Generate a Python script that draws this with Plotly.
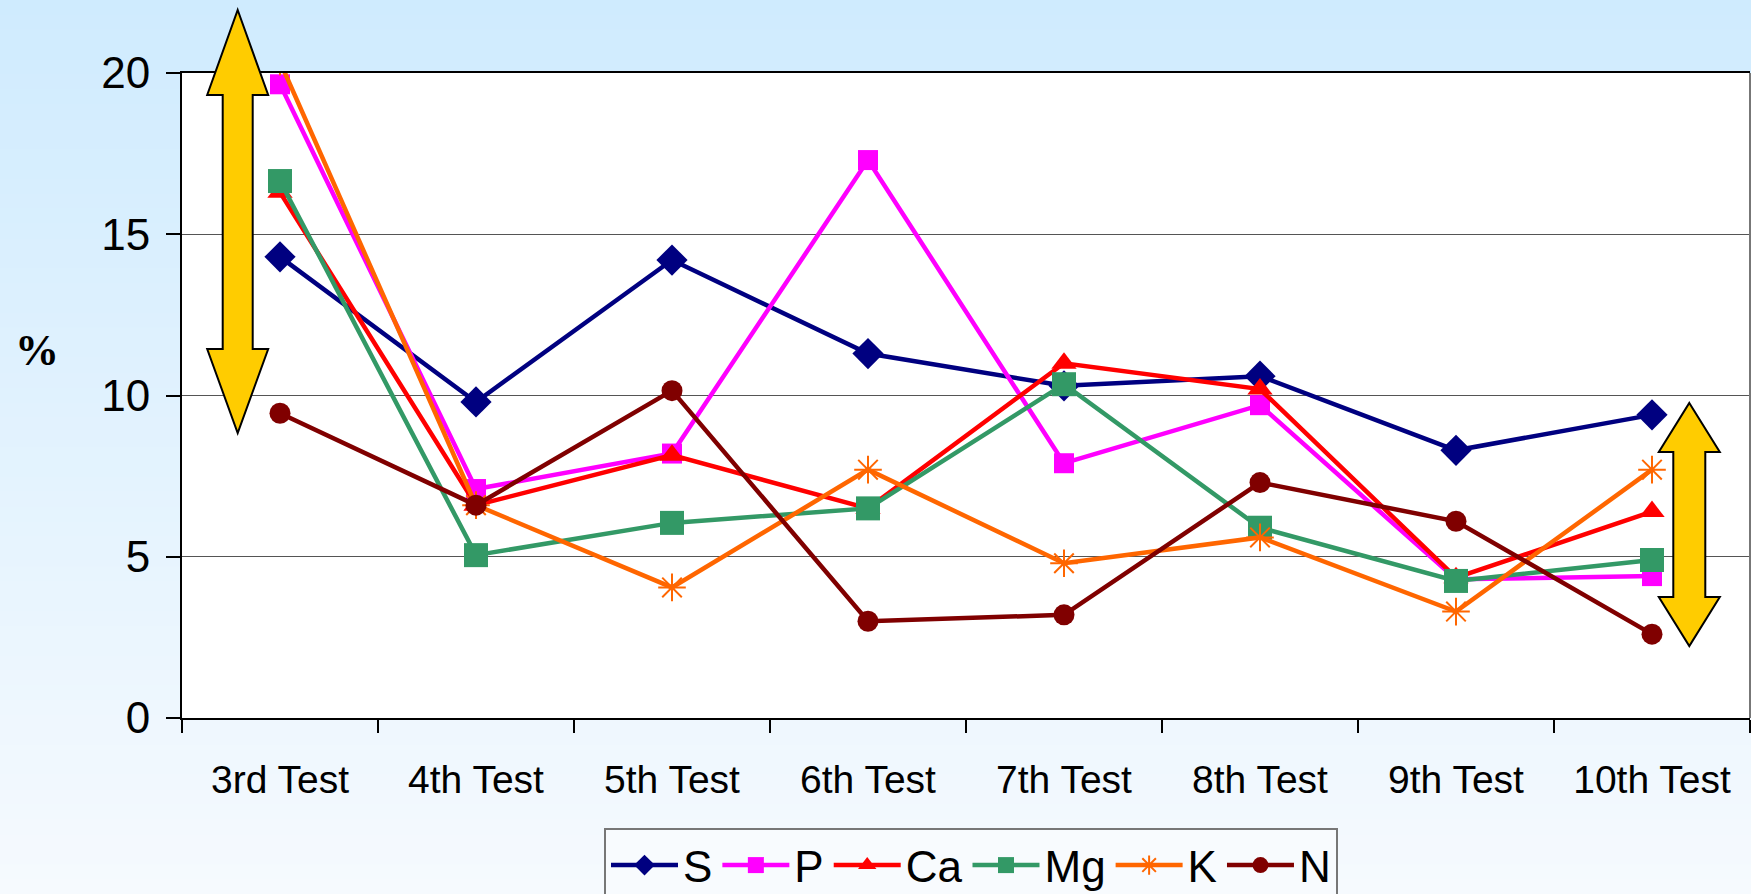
import plotly.graph_objects as go

categories = ["3rd Test", "4th Test", "5th Test", "6th Test", "7th Test", "8th Test", "9th Test", "10th Test"]
S = [14.3, 9.8, 14.2, 11.3, 10.3, 10.6, 8.3, 9.4]
P = [19.65, 7.1, 8.2, 17.3, 7.9, 9.7, 4.3, 4.4]
Ca = [16.3, 6.6, 8.15, 6.5, 11.0, 10.2, 4.35, 6.4]
Mg = [16.65, 5.05, 6.05, 6.5, 10.35, 5.9, 4.25, 4.9]
K = [20.35, 6.6, 4.05, 7.7, 4.8, 5.6, 3.3, 7.7]
N = [9.45, 6.6, 10.15, 3.0, 3.2, 7.3, 6.1, 2.6]
y_ticks = [0, 5, 10, 15, 20]

W, H = 1751, 894
ML, MR, MT, MB = 182, 1, 73, 176
PW, PH = W - ML - MR, H - MT - MB


def px2paper(x, y):
    return (x - ML) / PW, (H - MB - y) / PH


series = [
    ("S", S, "#000080", "diamond", 24, 0),
    ("P", P, "#FF00FF", "square", 20, 0),
    ("Ca", Ca, "#FF0000", "triangle-up", 22, 0),
    ("Mg", Mg, "#339966", "square", 24, 0),
    ("K", K, "#FF6600", "asterisk-open", 23, 2),
    ("N", N, "#800000", "circle", 21, 0),
]

fig = go.Figure()
for name, vals, color, sym, size, lw in series:
    fig.add_trace(go.Scatter(
        x=categories, y=vals, name=name, mode="lines+markers",
        line=dict(color=color, width=4.5),
        marker=dict(symbol=sym, size=size, color=color,
                    line=dict(color=color, width=lw)),
    ))

shapes = []
# vertical gradient background
n = 60
top = (207, 235, 254)
bot = (246, 250, 254)
x0p, _ = px2paper(0, 0)
x1p, _ = px2paper(W, 0)
for i in range(n):
    t = (i + 0.5) / n
    c = tuple(round(top[k] + (bot[k] - top[k]) * t) for k in range(3))
    _, ya = px2paper(0, H * i / n)
    _, yb = px2paper(0, H * (i + 1) / n + 1)
    shapes.append(dict(type="rect", xref="paper", yref="paper", x0=x0p, x1=x1p,
                       y0=yb, y1=ya, fillcolor="rgb(%d,%d,%d)" % c,
                       line=dict(width=0), layer="below"))
shapes.append(dict(type="rect", xref="paper", yref="paper", x0=0, x1=1, y0=0, y1=1,
                   fillcolor="white", line=dict(width=0), layer="below"))
shapes.append(dict(type="line", xref="paper", yref="paper", x0=1, x1=1, y0=0, y1=1,
                   line=dict(color="#777777", width=2)))


def arrow(cx, ytop, ybot, hw, sw, hbase_top, hbase_bot):
    pts = [(cx, ytop), (cx + hw, hbase_top), (cx + sw, hbase_top), (cx + sw, hbase_bot),
           (cx + hw, hbase_bot), (cx, ybot), (cx - hw, hbase_bot), (cx - sw, hbase_bot),
           (cx - sw, hbase_top), (cx - hw, hbase_top)]
    p = []
    for i, (x, y) in enumerate(pts):
        a, b = px2paper(x, y)
        p.append(("M" if i == 0 else "L") + "%.5f,%.5f" % (a, b))
    return dict(type="path", xref="paper", yref="paper", path=" ".join(p) + " Z",
                fillcolor="#FFCC00", line=dict(color="black", width=2), layer="above")


shapes.append(arrow(237.7, 10, 433, 30.5, 15, 95, 349))
shapes.append(arrow(1689.3, 403, 646, 30.5, 16, 452, 597))

px_, py_ = px2paper(36.5, 350)

fig.update_layout(
    width=W, height=H,
    margin=dict(l=ML, r=MR, t=MT, b=MB, autoexpand=False),
    paper_bgcolor="rgb(226,242,254)",
    plot_bgcolor="white",
    font=dict(family="Liberation Sans", color="black"),
    shapes=shapes,
    showlegend=True,
    legend=dict(orientation="h", x=px2paper(604, 0)[0], xanchor="left",
                y=px2paper(0, 828)[1], yanchor="top",
                font=dict(family="Liberation Sans", size=44, color="black"),
                bgcolor="#F8FBFE", bordercolor="#777777", borderwidth=2,
                itemwidth=67, tracegroupgap=0),
    annotations=[dict(text="<b>%</b>", xref="paper", yref="paper", x=px_, y=py_,
                      xanchor="center", yanchor="middle", showarrow=False,
                      font=dict(family="Liberation Serif", size=44, color="black"))],
    xaxis=dict(type="category", tickson="boundaries", ticks="outside", ticklen=13,
               tickcolor="black", tickwidth=1.5, showline=True, linecolor="black", linewidth=2,
               mirror=True, showgrid=False, tickfont=dict(size=39), ticklabelstandoff=26,
               range=[-0.5, 7.5], automargin=False),
    yaxis=dict(range=[0, 20], tickvals=y_ticks, ticks="outside", ticklen=14, tickcolor="black",
               tickwidth=1.5, showline=True, linecolor="black", linewidth=2,
               showgrid=True, gridcolor="#555555", gridwidth=1, zeroline=False,
               tickfont=dict(size=44), ticklabelstandoff=7, automargin=False),
)

fig.write_html("out.html", config={"displayModeBar": False},
               post_script="document.body.style.margin='0';window.dispatchEvent(new Event('resize'));")
